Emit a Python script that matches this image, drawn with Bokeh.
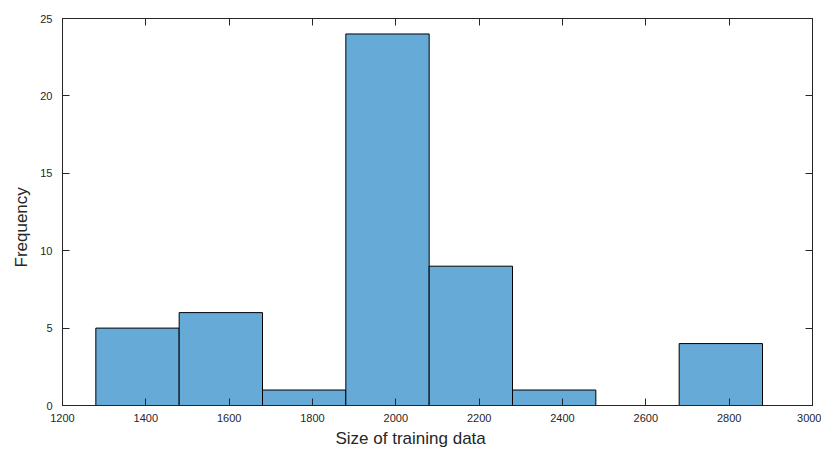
from bokeh.plotting import figure
from bokeh.models import LinearAxis, Range1d, FixedTicker, ColumnDataSource, Title
from bokeh.embed import file_html
from bokeh.resources import INLINE

bin_edges = [1280, 1480, 1680, 1880, 2080, 2280, 2480, 2680, 2880]
counts = [5, 6, 1, 24, 9, 1, 0, 4]
x_ticks = [1200, 1400, 1600, 1800, 2000, 2200, 2400, 2600, 2800, 3000]
y_ticks = [0, 5, 10, 15, 20, 25]
x_label = "Size of training data"
y_label = "Frequency"

lefts = [e for e, c in zip(bin_edges[:-1], counts) if c > 0]
rights = [e for e, c in zip(bin_edges[1:], counts) if c > 0]
tops = [c for c in counts if c > 0]
src = ColumnDataSource(dict(left=lefts, right=rights, top=tops, bottom=[0] * len(tops)))

AX = "#262626"
FONT = "Liberation Sans"

p = figure(width=821, height=451, output_backend="svg", toolbar_location=None,
           x_range=Range1d(1200, 3000), y_range=Range1d(0, 25),
           min_border_left=62, min_border_right=9, min_border_top=18, min_border_bottom=46)
p.xgrid.visible = False
p.ygrid.visible = False
p.outline_line_color = AX
p.outline_line_width = 1
p.background_fill_color = "white"
p.border_fill_color = "white"

p.quad(left="left", right="right", top="top", bottom="bottom", source=src,
       fill_color="#66AAD7", line_color="black", line_width=1)

for ax in p.xaxis + p.yaxis:
    ax.major_tick_in = 7
    ax.major_tick_out = 0
    ax.minor_tick_in = 0
    ax.minor_tick_out = 0
    ax.axis_line_color = AX
    ax.major_tick_line_color = AX
    ax.major_label_text_color = AX
    ax.major_label_text_font = FONT
    ax.major_label_text_font_size = "11px"

p.xaxis.ticker = FixedTicker(ticks=x_ticks)
p.yaxis.ticker = FixedTicker(ticks=y_ticks)
p.xaxis.major_label_standoff = 8
p.yaxis.major_label_standoff = 10

top_ax = LinearAxis(ticker=FixedTicker(ticks=x_ticks))
right_ax = LinearAxis(ticker=FixedTicker(ticks=y_ticks))
for ax in (top_ax, right_ax):
    ax.major_tick_in = 7
    ax.major_tick_out = 0
    ax.minor_tick_in = 0
    ax.minor_tick_out = 0
    ax.axis_line_color = AX
    ax.major_tick_line_color = AX
    ax.major_label_text_font_size = "0px"
    ax.major_label_standoff = 0
    ax.major_label_text_color = None
p.add_layout(top_ax, "above")
p.add_layout(right_ax, "right")

xt = Title(text=x_label, align="left", offset=273, standoff=5,
           text_font=FONT, text_font_size="17px", text_font_style="normal",
           text_color=AX)
yt = Title(text=y_label, align="left", offset=138, standoff=13,
           text_font=FONT, text_font_size="17px", text_font_style="normal",
           text_color=AX)
p.add_layout(xt, "below")
p.add_layout(yt, "left")

open("out.html", "w").write(file_html(p, INLINE))
